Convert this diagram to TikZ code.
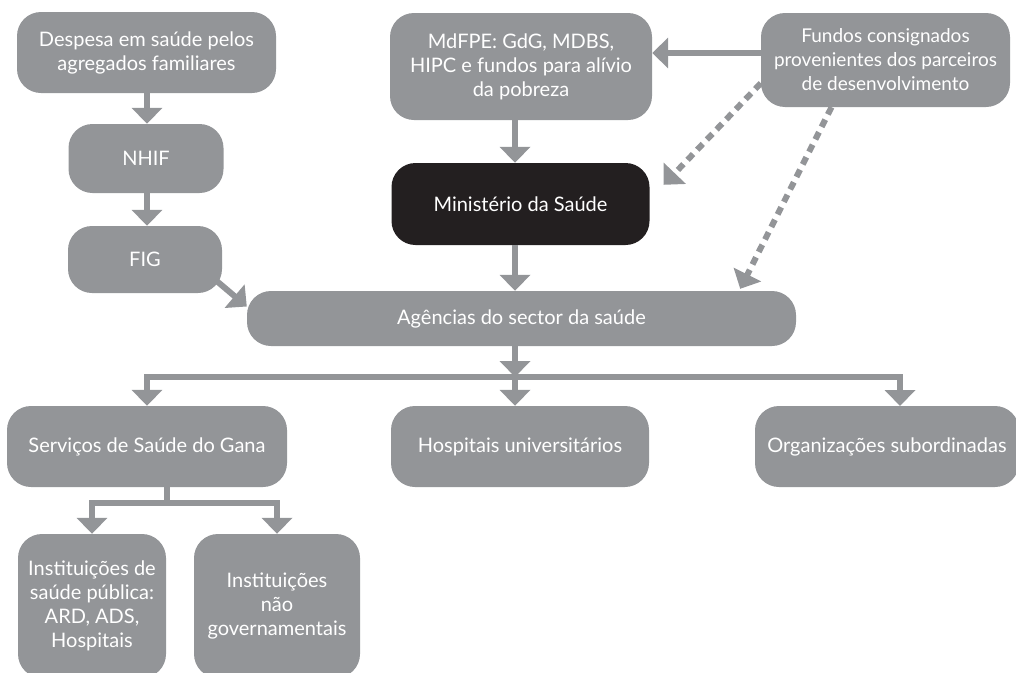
\documentclass[tikz,border=0pt]{standalone}
\usepackage{fontspec}
\setmainfont{Lato}
\usetikzlibrary{arrows.meta,calc}
\definecolor{boxgray}{HTML}{939598}
\definecolor{boxblack}{HTML}{231F20}
\tikzset{
  box/.style={rectangle, rounded corners=24pt, fill=boxgray, text=white, align=center,
    inner sep=0pt, font=\fontsize{20}{24}\selectfont},
  conn/.style={draw=boxgray, line width=6pt, -{Triangle[width=30pt,length=16pt]}},
  dconn/.style={conn, dash pattern=on 8pt off 6pt},
  plain/.style={draw=boxgray, line width=6pt}
}
\begin{document}
\begin{tikzpicture}[x=1pt,y=-1pt]
\useasboundingbox (0,0) rectangle (1016,672);
\node[box, minimum width=259pt, minimum height=81pt] (desp) at (146.5,52.5) {Despesa em saúde pelos\\agregados familiares};
\node[box, minimum width=155pt, minimum height=69pt] (nhif) at (146,158.5) {NHIF};
\node[box, minimum width=154pt, minimum height=67pt] (fig) at (145,259.5) {FIG};
\node[box, minimum width=262pt, minimum height=107pt] (mdfpe) at (521,66.5) {MdFPE: GdG, MDBS,\\HIPC e fundos para alívio\\da pobreza};
\node[box, minimum width=249pt, minimum height=94pt, font=\fontsize{19}{24}\selectfont] (fundos) at (885.5,60) {Fundos consignados\\provenientes dos parceiros\\de desenvolvimento};
\node[box, fill=boxblack, minimum width=258pt, minimum height=82pt] (min) at (520.5,204) {Ministério da Saúde};
\node[box, minimum width=549pt, minimum height=55pt] (ag) at (521.5,318.5) {Agências do sector da saúde};
\node[box, minimum width=280pt, minimum height=81pt] (serv) at (147,446.5) {Serviços de Saúde do Gana};
\node[box, minimum width=258pt, minimum height=81pt] (hosp) at (520,446.5) {Hospitais universitários};
\node[box, minimum width=264pt, minimum height=81pt] (org) at (887,446.5) {Organizações subordinadas};
\node[box, minimum width=148pt, minimum height=144pt] (isp) at (92,606) {Instituições de\\saúde pública:\\ARD, ADS,\\Hospitais};
\node[box, minimum width=166pt, minimum height=144pt] (ing) at (277,606) {Instituições\\não\\governamentais};
% columns and buses
\coordinate (lcol) at (147,0);
\coordinate (ccol) at (515,0);
\coordinate (bus) at (515,377);
\coordinate (orgtop) at (900,406);
\coordinate (sbus) at (167,503);
% left chain
\draw[conn] (desp.south -| lcol) -- (nhif.north -| lcol);
\draw[conn] (nhif.south -| lcol) -- (fig.north -| lcol);
\draw[conn] ($(fig.south east)+(-10,-16)$) -- ($(ag.west)+(0,-12)$);
% centre chain
\draw[conn] (fundos.west) ++(0,-7) coordinate (fa) -- (fa -| mdfpe.east);
\draw[conn] (mdfpe.south -| ccol) -- (min.north -| ccol);
\draw[conn] (min.south -| ccol) -- (ag.north -| ccol);
\draw[dconn] ($(fundos.south west)+(0,-24)$) -- ($(min.north east)+(14,22)$);
\draw[dconn] ($(fundos.south)+(-54,0)$) -- ($(ag.north east)+(-56,-2)$);
% bus
\draw[conn] (ag.south -| ccol) -- (bus);
\draw[conn] (bus) -- (hosp.north -| bus);
\draw[conn] (bus) -| (serv.north);
\draw[conn] (bus) -| (orgtop);
% subtree
\draw[plain] (serv.south -| sbus) -- (sbus);
\draw[conn] (sbus) -| (isp.north);
\draw[conn] (sbus) -| (ing.north);
\end{tikzpicture}
\end{document}
